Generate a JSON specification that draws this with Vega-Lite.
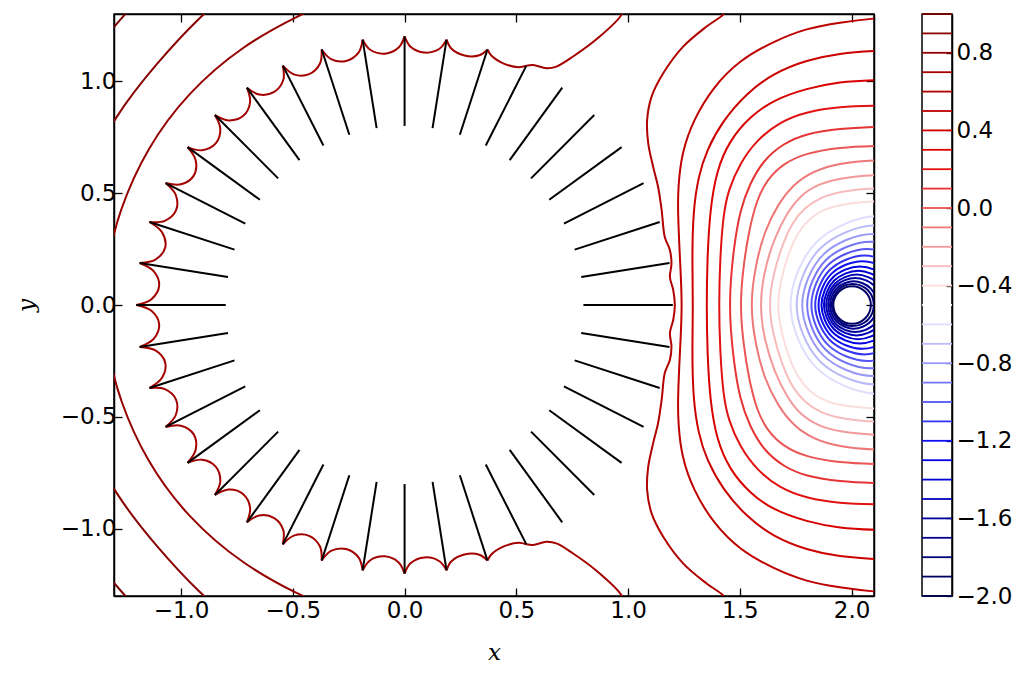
{
"$schema": "https://vega.github.io/schema/vega-lite/v6.json",
"background": "white",
"padding": {"left": 14, "top": 12, "right": 5, "bottom": 5},
"config": {
  "font": "DejaVu Sans",
  "view": {"stroke": "black", "strokeWidth": 1.5},
  "axis": {"labelFont": "DejaVu Sans", "labelFontSize": 23, "labelColor": "black", "tickColor": "black", "domainColor": "black", "domainWidth": 1.5, "grid": false, "tickSize": -8, "tickWidth": 1.3, "titleFont": "DejaVu Serif", "titleFontStyle": "italic", "titleFontWeight": "normal", "titleFontSize": 23, "titleColor": "black"}
},
"datasets": {
"rings": [
{"c":"r19","l":-1.9,"i":0,"x":2.086,"y":0},{"c":"r19","l":-1.9,"i":1,"x":2.061,"y":0.059},{"c":"r19","l":-1.9,"i":2,"x":2.002,"y":0.084},{"c":"r19","l":-1.9,"i":3,"x":1.943,"y":0.059},{"c":"r19","l":-1.9,"i":4,"x":1.918,"y":0},{"c":"r19","l":-1.9,"i":5,"x":1.943,"y":-0.059},{"c":"r19","l":-1.9,"i":6,"x":2.002,"y":-0.084},{"c":"r19","l":-1.9,"i":7,"x":2.061,"y":-0.059},
{"c":"r18","l":-1.8,"i":0,"x":2.099,"y":0},{"c":"r18","l":-1.8,"i":1,"x":2.072,"y":0.067},{"c":"r18","l":-1.8,"i":2,"x":2.005,"y":0.094},{"c":"r18","l":-1.8,"i":3,"x":1.939,"y":0.067},{"c":"r18","l":-1.8,"i":4,"x":1.911,"y":0},{"c":"r18","l":-1.8,"i":5,"x":1.939,"y":-0.067},{"c":"r18","l":-1.8,"i":6,"x":2.005,"y":-0.094},{"c":"r18","l":-1.8,"i":7,"x":2.072,"y":-0.067},
{"c":"r17","l":-1.7,"i":0,"x":2.115,"y":0},{"c":"r17","l":-1.7,"i":1,"x":2.084,"y":0.075},{"c":"r17","l":-1.7,"i":2,"x":2.009,"y":0.106},{"c":"r17","l":-1.7,"i":3,"x":1.934,"y":0.075},{"c":"r17","l":-1.7,"i":4,"x":1.903,"y":0},{"c":"r17","l":-1.7,"i":5,"x":1.934,"y":-0.075},{"c":"r17","l":-1.7,"i":6,"x":2.009,"y":-0.106},{"c":"r17","l":-1.7,"i":7,"x":2.084,"y":-0.075},
{"c":"r16","l":-1.6,"i":0,"x":2.137,"y":0},{"c":"r16","l":-1.6,"i":1,"x":2.102,"y":0.086},{"c":"r16","l":-1.6,"i":2,"x":2.016,"y":0.121},{"c":"r16","l":-1.6,"i":3,"x":1.93,"y":0.086},{"c":"r16","l":-1.6,"i":4,"x":1.895,"y":0},{"c":"r16","l":-1.6,"i":5,"x":1.93,"y":-0.086},{"c":"r16","l":-1.6,"i":6,"x":2.016,"y":-0.121},{"c":"r16","l":-1.6,"i":7,"x":2.102,"y":-0.086},
{"c":"r15","l":-1.5,"i":0,"x":2.158,"y":0},{"c":"r15","l":-1.5,"i":1,"x":2.118,"y":0.096},{"c":"r15","l":-1.5,"i":2,"x":2.022,"y":0.136},{"c":"r15","l":-1.5,"i":3,"x":1.926,"y":0.096},{"c":"r15","l":-1.5,"i":4,"x":1.886,"y":0},{"c":"r15","l":-1.5,"i":5,"x":1.926,"y":-0.096},{"c":"r15","l":-1.5,"i":6,"x":2.022,"y":-0.136},{"c":"r15","l":-1.5,"i":7,"x":2.118,"y":-0.096},
{"c":"r14","l":-1.4,"i":0,"x":2.182,"y":0},{"c":"r14","l":-1.4,"i":1,"x":2.137,"y":0.108},{"c":"r14","l":-1.4,"i":2,"x":2.029,"y":0.153},{"c":"r14","l":-1.4,"i":3,"x":1.921,"y":0.108},{"c":"r14","l":-1.4,"i":4,"x":1.876,"y":0},{"c":"r14","l":-1.4,"i":5,"x":1.921,"y":-0.108},{"c":"r14","l":-1.4,"i":6,"x":2.029,"y":-0.153},{"c":"r14","l":-1.4,"i":7,"x":2.137,"y":-0.108},
{"c":"r13","l":-1.3,"i":0,"x":2.209,"y":0},{"c":"r13","l":-1.3,"i":1,"x":2.159,"y":0.122},{"c":"r13","l":-1.3,"i":2,"x":2.037,"y":0.172},{"c":"r13","l":-1.3,"i":3,"x":1.915,"y":0.122},{"c":"r13","l":-1.3,"i":4,"x":1.865,"y":0},{"c":"r13","l":-1.3,"i":5,"x":1.915,"y":-0.122},{"c":"r13","l":-1.3,"i":6,"x":2.037,"y":-0.172},{"c":"r13","l":-1.3,"i":7,"x":2.159,"y":-0.122},
{"c":"r12","l":-1.2,"i":0,"x":2.244,"y":0},{"c":"r12","l":-1.2,"i":1,"x":2.187,"y":0.139},{"c":"r12","l":-1.2,"i":2,"x":2.048,"y":0.196},{"c":"r12","l":-1.2,"i":3,"x":1.909,"y":0.139},{"c":"r12","l":-1.2,"i":4,"x":1.852,"y":0},{"c":"r12","l":-1.2,"i":5,"x":1.909,"y":-0.139},{"c":"r12","l":-1.2,"i":6,"x":2.048,"y":-0.196},{"c":"r12","l":-1.2,"i":7,"x":2.187,"y":-0.139},
{"c":"r11","l":-1.1,"i":0,"x":2.279,"y":0},{"c":"r11","l":-1.1,"i":1,"x":2.214,"y":0.156},{"c":"r11","l":-1.1,"i":2,"x":2.058,"y":0.221},{"c":"r11","l":-1.1,"i":3,"x":1.902,"y":0.156},{"c":"r11","l":-1.1,"i":4,"x":1.837,"y":0},{"c":"r11","l":-1.1,"i":5,"x":1.902,"y":-0.156},{"c":"r11","l":-1.1,"i":6,"x":2.058,"y":-0.221},{"c":"r11","l":-1.1,"i":7,"x":2.214,"y":-0.156},
{"c":"r10","l":-1.0,"i":0,"x":2.32,"y":0},{"c":"r10","l":-1.0,"i":1,"x":2.247,"y":0.177},{"c":"r10","l":-1.0,"i":2,"x":2.07,"y":0.25},{"c":"r10","l":-1.0,"i":3,"x":1.893,"y":0.177},{"c":"r10","l":-1.0,"i":4,"x":1.82,"y":0},{"c":"r10","l":-1.0,"i":5,"x":1.893,"y":-0.177},{"c":"r10","l":-1.0,"i":6,"x":2.07,"y":-0.25},{"c":"r10","l":-1.0,"i":7,"x":2.247,"y":-0.177},
{"c":"r09","l":-0.9,"i":0,"x":2.367,"y":0},{"c":"r09","l":-0.9,"i":1,"x":2.284,"y":0.2},{"c":"r09","l":-0.9,"i":2,"x":2.084,"y":0.283},{"c":"r09","l":-0.9,"i":3,"x":1.884,"y":0.2},{"c":"r09","l":-0.9,"i":4,"x":1.801,"y":0},{"c":"r09","l":-0.9,"i":5,"x":1.884,"y":-0.2},{"c":"r09","l":-0.9,"i":6,"x":2.084,"y":-0.283},{"c":"r09","l":-0.9,"i":7,"x":2.284,"y":-0.2},
{"c":"r08","l":-0.8,"i":0,"x":2.413,"y":0},{"c":"r08","l":-0.8,"i":1,"x":2.32,"y":0.224},{"c":"r08","l":-0.8,"i":2,"x":2.096,"y":0.317},{"c":"r08","l":-0.8,"i":3,"x":1.872,"y":0.224},{"c":"r08","l":-0.8,"i":4,"x":1.779,"y":0},{"c":"r08","l":-0.8,"i":5,"x":1.872,"y":-0.224},{"c":"r08","l":-0.8,"i":6,"x":2.096,"y":-0.317},{"c":"r08","l":-0.8,"i":7,"x":2.32,"y":-0.224},
{"c":"r07","l":-0.7,"i":0,"x":2.464,"y":0},{"c":"r07","l":-0.7,"i":1,"x":2.36,"y":0.251},{"c":"r07","l":-0.7,"i":2,"x":2.109,"y":0.355},{"c":"r07","l":-0.7,"i":3,"x":1.858,"y":0.251},{"c":"r07","l":-0.7,"i":4,"x":1.754,"y":0},{"c":"r07","l":-0.7,"i":5,"x":1.858,"y":-0.251},{"c":"r07","l":-0.7,"i":6,"x":2.109,"y":-0.355},{"c":"r07","l":-0.7,"i":7,"x":2.36,"y":-0.251},
{"c":"r06","l":-0.6,"i":0,"x":2.521,"y":0},{"c":"r06","l":-0.6,"i":1,"x":2.405,"y":0.281},{"c":"r06","l":-0.6,"i":2,"x":2.124,"y":0.397},{"c":"r06","l":-0.6,"i":3,"x":1.843,"y":0.281},{"c":"r06","l":-0.6,"i":4,"x":1.727,"y":0},{"c":"r06","l":-0.6,"i":5,"x":1.843,"y":-0.281},{"c":"r06","l":-0.6,"i":6,"x":2.124,"y":-0.397},{"c":"r06","l":-0.6,"i":7,"x":2.405,"y":-0.281}
],
"smooth": [
{"c":"c5","l":0.5,"i":0,"x":2.25,"y":1.29},{"c":"c5","l":0.5,"i":1,"x":2.097,"y":1.281},{"c":"c5","l":0.5,"i":2,"x":1.948,"y":1.262},{"c":"c5","l":0.5,"i":3,"x":1.799,"y":1.237},{"c":"c5","l":0.5,"i":4,"x":1.649,"y":1.177},{"c":"c5","l":0.5,"i":5,"x":1.5,"y":1.095},{"c":"c5","l":0.5,"i":6,"x":1.381,"y":0.975},{"c":"c5","l":0.5,"i":7,"x":1.291,"y":0.826},{"c":"c5","l":0.5,"i":8,"x":1.239,"y":0.677},{"c":"c5","l":0.5,"i":9,"x":1.224,"y":0.528},{"c":"c5","l":0.5,"i":10,"x":1.222,"y":0.424},{"c":"c5","l":0.5,"i":11,"x":1.232,"y":0.2},{"c":"c5","l":0.5,"i":12,"x":1.243,"y":0},{"c":"c5","l":0.5,"i":13,"x":1.232,"y":-0.2},{"c":"c5","l":0.5,"i":14,"x":1.222,"y":-0.424},{"c":"c5","l":0.5,"i":15,"x":1.224,"y":-0.528},{"c":"c5","l":0.5,"i":16,"x":1.239,"y":-0.677},{"c":"c5","l":0.5,"i":17,"x":1.291,"y":-0.826},{"c":"c5","l":0.5,"i":18,"x":1.381,"y":-0.975},{"c":"c5","l":0.5,"i":19,"x":1.5,"y":-1.095},{"c":"c5","l":0.5,"i":20,"x":1.649,"y":-1.177},{"c":"c5","l":0.5,"i":21,"x":1.799,"y":-1.237},{"c":"c5","l":0.5,"i":22,"x":1.948,"y":-1.262},{"c":"c5","l":0.5,"i":23,"x":2.097,"y":-1.281},{"c":"c5","l":0.5,"i":24,"x":2.25,"y":-1.29},
{"c":"c4","l":0.4,"i":0,"x":2.25,"y":1.14},{"c":"c4","l":0.4,"i":1,"x":2.097,"y":1.135},{"c":"c4","l":0.4,"i":2,"x":1.948,"y":1.125},{"c":"c4","l":0.4,"i":3,"x":1.799,"y":1.095},{"c":"c4","l":0.4,"i":4,"x":1.649,"y":1.035},{"c":"c4","l":0.4,"i":5,"x":1.53,"y":0.946},{"c":"c4","l":0.4,"i":6,"x":1.425,"y":0.826},{"c":"c4","l":0.4,"i":7,"x":1.351,"y":0.692},{"c":"c4","l":0.4,"i":8,"x":1.314,"y":0.573},{"c":"c4","l":0.4,"i":9,"x":1.291,"y":0.423},{"c":"c4","l":0.4,"i":10,"x":1.286,"y":0.2},{"c":"c4","l":0.4,"i":11,"x":1.291,"y":0},{"c":"c4","l":0.4,"i":12,"x":1.286,"y":-0.2},{"c":"c4","l":0.4,"i":13,"x":1.291,"y":-0.423},{"c":"c4","l":0.4,"i":14,"x":1.314,"y":-0.573},{"c":"c4","l":0.4,"i":15,"x":1.351,"y":-0.692},{"c":"c4","l":0.4,"i":16,"x":1.425,"y":-0.826},{"c":"c4","l":0.4,"i":17,"x":1.53,"y":-0.946},{"c":"c4","l":0.4,"i":18,"x":1.649,"y":-1.035},{"c":"c4","l":0.4,"i":19,"x":1.799,"y":-1.095},{"c":"c4","l":0.4,"i":20,"x":1.948,"y":-1.125},{"c":"c4","l":0.4,"i":21,"x":2.097,"y":-1.135},{"c":"c4","l":0.4,"i":22,"x":2.25,"y":-1.14},
{"c":"c3","l":0.3,"i":0,"x":2.25,"y":1.008},{"c":"c3","l":0.3,"i":1,"x":2.097,"y":1.005},{"c":"c3","l":0.3,"i":2,"x":1.948,"y":0.998},{"c":"c3","l":0.3,"i":3,"x":1.799,"y":0.968},{"c":"c3","l":0.3,"i":4,"x":1.649,"y":0.916},{"c":"c3","l":0.3,"i":5,"x":1.545,"y":0.841},{"c":"c3","l":0.3,"i":6,"x":1.455,"y":0.737},{"c":"c3","l":0.3,"i":7,"x":1.396,"y":0.603},{"c":"c3","l":0.3,"i":8,"x":1.366,"y":0.424},{"c":"c3","l":0.3,"i":9,"x":1.354,"y":0.2},{"c":"c3","l":0.3,"i":10,"x":1.351,"y":0},{"c":"c3","l":0.3,"i":11,"x":1.354,"y":-0.2},{"c":"c3","l":0.3,"i":12,"x":1.366,"y":-0.424},{"c":"c3","l":0.3,"i":13,"x":1.396,"y":-0.603},{"c":"c3","l":0.3,"i":14,"x":1.455,"y":-0.737},{"c":"c3","l":0.3,"i":15,"x":1.545,"y":-0.841},{"c":"c3","l":0.3,"i":16,"x":1.649,"y":-0.916},{"c":"c3","l":0.3,"i":17,"x":1.799,"y":-0.968},{"c":"c3","l":0.3,"i":18,"x":1.948,"y":-0.998},{"c":"c3","l":0.3,"i":19,"x":2.097,"y":-1.005},{"c":"c3","l":0.3,"i":20,"x":2.25,"y":-1.008},
{"c":"c2","l":0.2,"i":0,"x":2.25,"y":0.892},{"c":"c2","l":0.2,"i":1,"x":2.097,"y":0.89},{"c":"c2","l":0.2,"i":2,"x":1.948,"y":0.886},{"c":"c2","l":0.2,"i":3,"x":1.799,"y":0.864},{"c":"c2","l":0.2,"i":4,"x":1.679,"y":0.819},{"c":"c2","l":0.2,"i":5,"x":1.575,"y":0.737},{"c":"c2","l":0.2,"i":6,"x":1.5,"y":0.633},{"c":"c2","l":0.2,"i":7,"x":1.448,"y":0.513},{"c":"c2","l":0.2,"i":8,"x":1.425,"y":0.4},{"c":"c2","l":0.2,"i":9,"x":1.411,"y":0.2},{"c":"c2","l":0.2,"i":10,"x":1.406,"y":0},{"c":"c2","l":0.2,"i":11,"x":1.411,"y":-0.2},{"c":"c2","l":0.2,"i":12,"x":1.425,"y":-0.4},{"c":"c2","l":0.2,"i":13,"x":1.448,"y":-0.513},{"c":"c2","l":0.2,"i":14,"x":1.5,"y":-0.633},{"c":"c2","l":0.2,"i":15,"x":1.575,"y":-0.737},{"c":"c2","l":0.2,"i":16,"x":1.679,"y":-0.819},{"c":"c2","l":0.2,"i":17,"x":1.799,"y":-0.864},{"c":"c2","l":0.2,"i":18,"x":1.948,"y":-0.886},{"c":"c2","l":0.2,"i":19,"x":2.097,"y":-0.89},{"c":"c2","l":0.2,"i":20,"x":2.25,"y":-0.892},
{"c":"c1","l":0.1,"i":0,"x":2.25,"y":0.8},{"c":"c1","l":0.1,"i":1,"x":2.097,"y":0.796},{"c":"c1","l":0.1,"i":2,"x":1.948,"y":0.789},{"c":"c1","l":0.1,"i":3,"x":1.799,"y":0.767},{"c":"c1","l":0.1,"i":4,"x":1.694,"y":0.722},{"c":"c1","l":0.1,"i":5,"x":1.605,"y":0.647},{"c":"c1","l":0.1,"i":6,"x":1.545,"y":0.543},{"c":"c1","l":0.1,"i":7,"x":1.5,"y":0.424},{"c":"c1","l":0.1,"i":8,"x":1.472,"y":0.25},{"c":"c1","l":0.1,"i":9,"x":1.458,"y":0.1},{"c":"c1","l":0.1,"i":10,"x":1.455,"y":0},{"c":"c1","l":0.1,"i":11,"x":1.458,"y":-0.1},{"c":"c1","l":0.1,"i":12,"x":1.472,"y":-0.25},{"c":"c1","l":0.1,"i":13,"x":1.5,"y":-0.424},{"c":"c1","l":0.1,"i":14,"x":1.545,"y":-0.543},{"c":"c1","l":0.1,"i":15,"x":1.605,"y":-0.647},{"c":"c1","l":0.1,"i":16,"x":1.694,"y":-0.722},{"c":"c1","l":0.1,"i":17,"x":1.799,"y":-0.767},{"c":"c1","l":0.1,"i":18,"x":1.948,"y":-0.789},{"c":"c1","l":0.1,"i":19,"x":2.097,"y":-0.796},{"c":"c1","l":0.1,"i":20,"x":2.25,"y":-0.8},
{"c":"c0","l":0.0,"i":0,"x":2.25,"y":0.715},{"c":"c0","l":0.0,"i":1,"x":2.1,"y":0.711},{"c":"c0","l":0.0,"i":2,"x":1.948,"y":0.705},{"c":"c0","l":0.0,"i":3,"x":1.799,"y":0.68},{"c":"c0","l":0.0,"i":4,"x":1.694,"y":0.633},{"c":"c0","l":0.0,"i":5,"x":1.62,"y":0.558},{"c":"c0","l":0.0,"i":6,"x":1.575,"y":0.468},{"c":"c0","l":0.0,"i":7,"x":1.54,"y":0.33},{"c":"c0","l":0.0,"i":8,"x":1.515,"y":0.17},{"c":"c0","l":0.0,"i":9,"x":1.5,"y":0},{"c":"c0","l":0.0,"i":10,"x":1.515,"y":-0.17},{"c":"c0","l":0.0,"i":11,"x":1.54,"y":-0.33},{"c":"c0","l":0.0,"i":12,"x":1.575,"y":-0.468},{"c":"c0","l":0.0,"i":13,"x":1.62,"y":-0.558},{"c":"c0","l":0.0,"i":14,"x":1.694,"y":-0.633},{"c":"c0","l":0.0,"i":15,"x":1.799,"y":-0.68},{"c":"c0","l":0.0,"i":16,"x":1.948,"y":-0.705},{"c":"c0","l":0.0,"i":17,"x":2.1,"y":-0.711},{"c":"c0","l":0.0,"i":18,"x":2.25,"y":-0.715},
{"c":"m1","l":-0.1,"i":0,"x":2.25,"y":0.65},{"c":"m1","l":-0.1,"i":1,"x":2.1,"y":0.647},{"c":"m1","l":-0.1,"i":2,"x":1.95,"y":0.635},{"c":"m1","l":-0.1,"i":3,"x":1.83,"y":0.6},{"c":"m1","l":-0.1,"i":4,"x":1.74,"y":0.54},{"c":"m1","l":-0.1,"i":5,"x":1.67,"y":0.45},{"c":"m1","l":-0.1,"i":6,"x":1.61,"y":0.33},{"c":"m1","l":-0.1,"i":7,"x":1.57,"y":0.18},{"c":"m1","l":-0.1,"i":8,"x":1.545,"y":0},{"c":"m1","l":-0.1,"i":9,"x":1.57,"y":-0.18},{"c":"m1","l":-0.1,"i":10,"x":1.61,"y":-0.33},{"c":"m1","l":-0.1,"i":11,"x":1.67,"y":-0.45},{"c":"m1","l":-0.1,"i":12,"x":1.74,"y":-0.54},{"c":"m1","l":-0.1,"i":13,"x":1.83,"y":-0.6},{"c":"m1","l":-0.1,"i":14,"x":1.95,"y":-0.635},{"c":"m1","l":-0.1,"i":15,"x":2.1,"y":-0.647},{"c":"m1","l":-0.1,"i":16,"x":2.25,"y":-0.65},
{"c":"m2","l":-0.2,"i":0,"x":2.25,"y":0.585},{"c":"m2","l":-0.2,"i":1,"x":2.1,"y":0.581},{"c":"m2","l":-0.2,"i":2,"x":1.95,"y":0.568},{"c":"m2","l":-0.2,"i":3,"x":1.85,"y":0.54},{"c":"m2","l":-0.2,"i":4,"x":1.77,"y":0.49},{"c":"m2","l":-0.2,"i":5,"x":1.71,"y":0.41},{"c":"m2","l":-0.2,"i":6,"x":1.655,"y":0.3},{"c":"m2","l":-0.2,"i":7,"x":1.61,"y":0.16},{"c":"m2","l":-0.2,"i":8,"x":1.587,"y":0},{"c":"m2","l":-0.2,"i":9,"x":1.61,"y":-0.16},{"c":"m2","l":-0.2,"i":10,"x":1.655,"y":-0.3},{"c":"m2","l":-0.2,"i":11,"x":1.71,"y":-0.41},{"c":"m2","l":-0.2,"i":12,"x":1.77,"y":-0.49},{"c":"m2","l":-0.2,"i":13,"x":1.85,"y":-0.54},{"c":"m2","l":-0.2,"i":14,"x":1.95,"y":-0.568},{"c":"m2","l":-0.2,"i":15,"x":2.1,"y":-0.581},{"c":"m2","l":-0.2,"i":16,"x":2.25,"y":-0.585},
{"c":"m3","l":-0.3,"i":0,"x":2.25,"y":0.525},{"c":"m3","l":-0.3,"i":1,"x":2.1,"y":0.522},{"c":"m3","l":-0.3,"i":2,"x":1.95,"y":0.508},{"c":"m3","l":-0.3,"i":3,"x":1.86,"y":0.48},{"c":"m3","l":-0.3,"i":4,"x":1.79,"y":0.435},{"c":"m3","l":-0.3,"i":5,"x":1.735,"y":0.37},{"c":"m3","l":-0.3,"i":6,"x":1.69,"y":0.27},{"c":"m3","l":-0.3,"i":7,"x":1.65,"y":0.14},{"c":"m3","l":-0.3,"i":8,"x":1.627,"y":0},{"c":"m3","l":-0.3,"i":9,"x":1.65,"y":-0.14},{"c":"m3","l":-0.3,"i":10,"x":1.69,"y":-0.27},{"c":"m3","l":-0.3,"i":11,"x":1.735,"y":-0.37},{"c":"m3","l":-0.3,"i":12,"x":1.79,"y":-0.435},{"c":"m3","l":-0.3,"i":13,"x":1.86,"y":-0.48},{"c":"m3","l":-0.3,"i":14,"x":1.95,"y":-0.508},{"c":"m3","l":-0.3,"i":15,"x":2.1,"y":-0.522},{"c":"m3","l":-0.3,"i":16,"x":2.25,"y":-0.525},
{"c":"m4","l":-0.4,"i":0,"x":2.25,"y":0.466},{"c":"m4","l":-0.4,"i":1,"x":2.1,"y":0.464},{"c":"m4","l":-0.4,"i":2,"x":1.95,"y":0.45},{"c":"m4","l":-0.4,"i":3,"x":1.87,"y":0.425},{"c":"m4","l":-0.4,"i":4,"x":1.81,"y":0.385},{"c":"m4","l":-0.4,"i":5,"x":1.76,"y":0.325},{"c":"m4","l":-0.4,"i":6,"x":1.72,"y":0.24},{"c":"m4","l":-0.4,"i":7,"x":1.685,"y":0.12},{"c":"m4","l":-0.4,"i":8,"x":1.665,"y":0},{"c":"m4","l":-0.4,"i":9,"x":1.685,"y":-0.12},{"c":"m4","l":-0.4,"i":10,"x":1.72,"y":-0.24},{"c":"m4","l":-0.4,"i":11,"x":1.76,"y":-0.325},{"c":"m4","l":-0.4,"i":12,"x":1.81,"y":-0.385},{"c":"m4","l":-0.4,"i":13,"x":1.87,"y":-0.425},{"c":"m4","l":-0.4,"i":14,"x":1.95,"y":-0.45},{"c":"m4","l":-0.4,"i":15,"x":2.1,"y":-0.464},{"c":"m4","l":-0.4,"i":16,"x":2.25,"y":-0.466},
{"c":"a1","l":0.8,"i":0,"x":-0.35,"y":1.345},{"c":"a1","l":0.8,"i":1,"x":-0.463,"y":1.3},{"c":"a1","l":0.8,"i":2,"x":-0.725,"y":1.16},{"c":"a1","l":0.8,"i":3,"x":-0.97,"y":0.95},{"c":"a1","l":0.8,"i":4,"x":-1.155,"y":0.7},{"c":"a1","l":0.8,"i":5,"x":-1.278,"y":0.42},{"c":"a1","l":0.8,"i":6,"x":-1.33,"y":0.2},{"c":"a1","l":0.8,"i":7,"x":-1.345,"y":0},{"c":"a1","l":0.8,"i":8,"x":-1.33,"y":-0.2},{"c":"a1","l":0.8,"i":9,"x":-1.278,"y":-0.42},{"c":"a1","l":0.8,"i":10,"x":-1.155,"y":-0.7},{"c":"a1","l":0.8,"i":11,"x":-0.97,"y":-0.95},{"c":"a1","l":0.8,"i":12,"x":-0.725,"y":-1.16},{"c":"a1","l":0.8,"i":13,"x":-0.463,"y":-1.3},{"c":"a1","l":0.8,"i":14,"x":-0.35,"y":-1.345},
{"c":"a2u","l":0.9,"i":0,"x":-0.8,"y":1.38},{"c":"a2u","l":0.9,"i":1,"x":-0.905,"y":1.3},{"c":"a2u","l":0.9,"i":2,"x":-1.11,"y":1.081},{"c":"a2u","l":0.9,"i":3,"x":-1.3,"y":0.839},{"c":"a2u","l":0.9,"i":4,"x":-1.407,"y":0.62},
{"c":"a2d","l":0.9,"i":0,"x":-0.8,"y":-1.38},{"c":"a2d","l":0.9,"i":1,"x":-0.905,"y":-1.3},{"c":"a2d","l":0.9,"i":2,"x":-1.11,"y":-1.081},{"c":"a2d","l":0.9,"i":3,"x":-1.3,"y":-0.839},{"c":"a2d","l":0.9,"i":4,"x":-1.407,"y":-0.62},
{"c":"a3u","l":1.0,"i":0,"x":-1.19,"y":1.36},{"c":"a3u","l":1.0,"i":1,"x":-1.25,"y":1.3},{"c":"a3u","l":1.0,"i":2,"x":-1.3,"y":1.242},{"c":"a3u","l":1.0,"i":3,"x":-1.36,"y":1.17},
{"c":"a3d","l":1.0,"i":0,"x":-1.19,"y":-1.36},{"c":"a3d","l":1.0,"i":1,"x":-1.25,"y":-1.3},{"c":"a3d","l":1.0,"i":2,"x":-1.3,"y":-1.242},{"c":"a3d","l":1.0,"i":3,"x":-1.36,"y":-1.17}
],
"sharp": [
{"c":"w","l":0.6,"i":0,"x":1.44,"y":1.32},{"c":"w","l":0.6,"i":1,"x":1.424,"y":1.296},{"c":"w","l":0.6,"i":2,"x":1.351,"y":1.244},{"c":"w","l":0.6,"i":3,"x":1.246,"y":1.154},{"c":"w","l":0.6,"i":4,"x":1.157,"y":1.035},{"c":"w","l":0.6,"i":5,"x":1.105,"y":0.931},{"c":"w","l":0.6,"i":6,"x":1.085,"y":0.826},{"c":"w","l":0.6,"i":7,"x":1.09,"y":0.722},{"c":"w","l":0.6,"i":8,"x":1.112,"y":0.617},{"c":"w","l":0.6,"i":9,"x":1.134,"y":0.528},{"c":"w","l":0.6,"i":10,"x":1.15,"y":0.424},{"c":"w","l":0.6,"i":11,"x":1.164,"y":0.304},{"c":"w","l":0.6,"i":12,"x":1.187,"y":0.245},{"c":"w","l":0.6,"i":13,"x":1.194,"y":0.185},{"c":"w","l":0.6,"i":14,"x":1.187,"y":0.125},{"c":"w","l":0.6,"i":15,"x":1.202,"y":0.066},{"c":"w","l":0.6,"i":16,"x":1.209,"y":0},{"c":"w","l":0.6,"i":17,"x":1.202,"y":-0.066},{"c":"w","l":0.6,"i":18,"x":1.187,"y":-0.125},{"c":"w","l":0.6,"i":19,"x":1.194,"y":-0.185},{"c":"w","l":0.6,"i":20,"x":1.187,"y":-0.245},{"c":"w","l":0.6,"i":21,"x":1.164,"y":-0.304},{"c":"w","l":0.6,"i":22,"x":1.15,"y":-0.424},{"c":"w","l":0.6,"i":23,"x":1.134,"y":-0.528},{"c":"w","l":0.6,"i":24,"x":1.112,"y":-0.617},{"c":"w","l":0.6,"i":25,"x":1.09,"y":-0.722},{"c":"w","l":0.6,"i":26,"x":1.085,"y":-0.826},{"c":"w","l":0.6,"i":27,"x":1.105,"y":-0.931},{"c":"w","l":0.6,"i":28,"x":1.157,"y":-1.035},{"c":"w","l":0.6,"i":29,"x":1.246,"y":-1.154},{"c":"w","l":0.6,"i":30,"x":1.351,"y":-1.244},{"c":"w","l":0.6,"i":31,"x":1.424,"y":-1.296},{"c":"w","l":0.6,"i":32,"x":1.44,"y":-1.32},
{"c":"st","l":0.7,"i":0,"x":0.975,"y":1.32},{"c":"st","l":0.7,"i":1,"x":0.97,"y":1.296},{"c":"st","l":0.7,"i":2,"x":0.873,"y":1.199},{"c":"st","l":0.7,"i":3,"x":0.754,"y":1.11},{"c":"st","l":0.7,"i":4,"x":0.679,"y":1.065},{"c":"st","l":0.7,"i":5,"x":0.635,"y":1.058},{"c":"st","l":0.7,"i":6,"x":0.575,"y":1.072},{"c":"st","l":0.7,"i":7,"x":0.5448,"y":1.0692},
{"c":"sb","l":0.7,"i":0,"x":0.975,"y":-1.32},{"c":"sb","l":0.7,"i":1,"x":0.97,"y":-1.296},{"c":"sb","l":0.7,"i":2,"x":0.873,"y":-1.199},{"c":"sb","l":0.7,"i":3,"x":0.754,"y":-1.11},{"c":"sb","l":0.7,"i":4,"x":0.679,"y":-1.065},{"c":"sb","l":0.7,"i":5,"x":0.635,"y":-1.058},{"c":"sb","l":0.7,"i":6,"x":0.575,"y":-1.072},{"c":"sb","l":0.7,"i":7,"x":0.5448,"y":-1.0692},
{"c":"s63","l":0.7,"i":0,"x":0.5448,"y":1.0692},{"c":"s63","l":0.7,"i":1,"x":0.5109,"y":1.0623},{"c":"s63","l":0.7,"i":2,"x":0.4463,"y":1.0775},{"c":"s63","l":0.7,"i":3,"x":0.3901,"y":1.1124},{"c":"s63","l":0.7,"i":4,"x":0.3708,"y":1.1413},
{"c":"s72","l":0.7,"i":0,"x":0.3708,"y":1.1413},{"c":"s72","l":0.7,"i":1,"x":0.3343,"y":1.1156},{"c":"s72","l":0.7,"i":2,"x":0.2676,"y":1.1147},{"c":"s72","l":0.7,"i":3,"x":0.2087,"y":1.1458},{"c":"s72","l":0.7,"i":4,"x":0.1877,"y":1.1852},
{"c":"s81","l":0.7,"i":0,"x":0.1877,"y":1.1852},{"c":"s81","l":0.7,"i":1,"x":0.1543,"y":1.1437},{"c":"s81","l":0.7,"i":2,"x":0.0888,"y":1.1278},{"c":"s81","l":0.7,"i":3,"x":0.0266,"y":1.1537},{"c":"s81","l":0.7,"i":4,"x":0,"y":1.2},
{"c":"s90","l":0.7,"i":0,"x":0,"y":1.2},{"c":"s90","l":0.7,"i":1,"x":-0.0265,"y":1.1502},{"c":"s90","l":0.7,"i":2,"x":-0.0884,"y":1.1228},{"c":"s90","l":0.7,"i":3,"x":-0.1537,"y":1.1401},{"c":"s90","l":0.7,"i":4,"x":-0.1877,"y":1.1852},
{"c":"s99","l":0.7,"i":0,"x":-0.1877,"y":1.1852},{"c":"s99","l":0.7,"i":1,"x":-0.2054,"y":1.1284},{"c":"s99","l":0.7,"i":2,"x":-0.2617,"y":1.0903},{"c":"s99","l":0.7,"i":3,"x":-0.3292,"y":1.0987},{"c":"s99","l":0.7,"i":4,"x":-0.3708,"y":1.1413},
{"c":"s108","l":0.7,"i":0,"x":-0.3708,"y":1.1413},{"c":"s108","l":0.7,"i":1,"x":-0.3784,"y":1.079},{"c":"s108","l":0.7,"i":2,"x":-0.4272,"y":1.0313},{"c":"s108","l":0.7,"i":3,"x":-0.4956,"y":1.0305},{"c":"s108","l":0.7,"i":4,"x":-0.5448,"y":1.0692},
{"c":"s117","l":0.7,"i":0,"x":-0.5448,"y":1.0692},{"c":"s117","l":0.7,"i":1,"x":-0.5424,"y":1.0065},{"c":"s117","l":0.7,"i":2,"x":-0.5833,"y":0.9518},{"c":"s117","l":0.7,"i":3,"x":-0.6506,"y":0.9403},{"c":"s117","l":0.7,"i":4,"x":-0.7053,"y":0.9708},
{"c":"s126","l":0.7,"i":0,"x":-0.7053,"y":0.9708},{"c":"s126","l":0.7,"i":1,"x":-0.6911,"y":0.9065},{"c":"s126","l":0.7,"i":2,"x":-0.7217,"y":0.845},{"c":"s126","l":0.7,"i":3,"x":-0.7873,"y":0.8245},{"c":"s126","l":0.7,"i":4,"x":-0.8485,"y":0.8485},
{"c":"s135","l":0.7,"i":0,"x":-0.8485,"y":0.8485},{"c":"s135","l":0.7,"i":1,"x":-0.8244,"y":0.7873},{"c":"s135","l":0.7,"i":2,"x":-0.845,"y":0.7217},{"c":"s135","l":0.7,"i":3,"x":-0.9066,"y":0.6911},{"c":"s135","l":0.7,"i":4,"x":-0.9708,"y":0.7053},
{"c":"s144","l":0.7,"i":0,"x":-0.9708,"y":0.7053},{"c":"s144","l":0.7,"i":1,"x":-0.9346,"y":0.6466},{"c":"s144","l":0.7,"i":2,"x":-0.9432,"y":0.578},{"c":"s144","l":0.7,"i":3,"x":-1.0005,"y":0.5391},{"c":"s144","l":0.7,"i":4,"x":-1.0692,"y":0.5448},
{"c":"s153","l":0.7,"i":0,"x":-1.0692,"y":0.5448},{"c":"s153","l":0.7,"i":1,"x":-1.0241,"y":0.4925},{"c":"s153","l":0.7,"i":2,"x":-1.0221,"y":0.4234},{"c":"s153","l":0.7,"i":3,"x":-1.0725,"y":0.376},{"c":"s153","l":0.7,"i":4,"x":-1.1413,"y":0.3708},
{"c":"s162","l":0.7,"i":0,"x":-1.1413,"y":0.3708},{"c":"s162","l":0.7,"i":1,"x":-1.0851,"y":0.3252},{"c":"s162","l":0.7,"i":2,"x":-1.0709,"y":0.257},{"c":"s162","l":0.7,"i":3,"x":-1.1146,"y":0.203},{"c":"s162","l":0.7,"i":4,"x":-1.1852,"y":0.1877},
{"c":"s171","l":0.7,"i":0,"x":-1.1852,"y":0.1877},{"c":"s171","l":0.7,"i":1,"x":-1.1227,"y":0.1515},{"c":"s171","l":0.7,"i":2,"x":-1.0979,"y":0.0865},{"c":"s171","l":0.7,"i":3,"x":-1.1325,"y":0.0261},{"c":"s171","l":0.7,"i":4,"x":-1.2,"y":0},
{"c":"t63","l":0.7,"i":0,"x":0.5448,"y":-1.0692},{"c":"t63","l":0.7,"i":1,"x":0.5109,"y":-1.0623},{"c":"t63","l":0.7,"i":2,"x":0.4463,"y":-1.0775},{"c":"t63","l":0.7,"i":3,"x":0.3901,"y":-1.1124},{"c":"t63","l":0.7,"i":4,"x":0.3708,"y":-1.1413},
{"c":"t72","l":0.7,"i":0,"x":0.3708,"y":-1.1413},{"c":"t72","l":0.7,"i":1,"x":0.3343,"y":-1.1156},{"c":"t72","l":0.7,"i":2,"x":0.2676,"y":-1.1147},{"c":"t72","l":0.7,"i":3,"x":0.2087,"y":-1.1458},{"c":"t72","l":0.7,"i":4,"x":0.1877,"y":-1.1852},
{"c":"t81","l":0.7,"i":0,"x":0.1877,"y":-1.1852},{"c":"t81","l":0.7,"i":1,"x":0.1543,"y":-1.1437},{"c":"t81","l":0.7,"i":2,"x":0.0888,"y":-1.1278},{"c":"t81","l":0.7,"i":3,"x":0.0266,"y":-1.1537},{"c":"t81","l":0.7,"i":4,"x":0,"y":-1.2},
{"c":"t90","l":0.7,"i":0,"x":0,"y":-1.2},{"c":"t90","l":0.7,"i":1,"x":-0.0265,"y":-1.1502},{"c":"t90","l":0.7,"i":2,"x":-0.0884,"y":-1.1228},{"c":"t90","l":0.7,"i":3,"x":-0.1537,"y":-1.1401},{"c":"t90","l":0.7,"i":4,"x":-0.1877,"y":-1.1852},
{"c":"t99","l":0.7,"i":0,"x":-0.1877,"y":-1.1852},{"c":"t99","l":0.7,"i":1,"x":-0.2054,"y":-1.1284},{"c":"t99","l":0.7,"i":2,"x":-0.2617,"y":-1.0903},{"c":"t99","l":0.7,"i":3,"x":-0.3292,"y":-1.0987},{"c":"t99","l":0.7,"i":4,"x":-0.3708,"y":-1.1413},
{"c":"t108","l":0.7,"i":0,"x":-0.3708,"y":-1.1413},{"c":"t108","l":0.7,"i":1,"x":-0.3784,"y":-1.079},{"c":"t108","l":0.7,"i":2,"x":-0.4272,"y":-1.0313},{"c":"t108","l":0.7,"i":3,"x":-0.4956,"y":-1.0305},{"c":"t108","l":0.7,"i":4,"x":-0.5448,"y":-1.0692},
{"c":"t117","l":0.7,"i":0,"x":-0.5448,"y":-1.0692},{"c":"t117","l":0.7,"i":1,"x":-0.5424,"y":-1.0065},{"c":"t117","l":0.7,"i":2,"x":-0.5833,"y":-0.9518},{"c":"t117","l":0.7,"i":3,"x":-0.6506,"y":-0.9403},{"c":"t117","l":0.7,"i":4,"x":-0.7053,"y":-0.9708},
{"c":"t126","l":0.7,"i":0,"x":-0.7053,"y":-0.9708},{"c":"t126","l":0.7,"i":1,"x":-0.6911,"y":-0.9065},{"c":"t126","l":0.7,"i":2,"x":-0.7217,"y":-0.845},{"c":"t126","l":0.7,"i":3,"x":-0.7873,"y":-0.8245},{"c":"t126","l":0.7,"i":4,"x":-0.8485,"y":-0.8485},
{"c":"t135","l":0.7,"i":0,"x":-0.8485,"y":-0.8485},{"c":"t135","l":0.7,"i":1,"x":-0.8244,"y":-0.7873},{"c":"t135","l":0.7,"i":2,"x":-0.845,"y":-0.7217},{"c":"t135","l":0.7,"i":3,"x":-0.9066,"y":-0.6911},{"c":"t135","l":0.7,"i":4,"x":-0.9708,"y":-0.7053},
{"c":"t144","l":0.7,"i":0,"x":-0.9708,"y":-0.7053},{"c":"t144","l":0.7,"i":1,"x":-0.9346,"y":-0.6466},{"c":"t144","l":0.7,"i":2,"x":-0.9432,"y":-0.578},{"c":"t144","l":0.7,"i":3,"x":-1.0005,"y":-0.5391},{"c":"t144","l":0.7,"i":4,"x":-1.0692,"y":-0.5448},
{"c":"t153","l":0.7,"i":0,"x":-1.0692,"y":-0.5448},{"c":"t153","l":0.7,"i":1,"x":-1.0241,"y":-0.4925},{"c":"t153","l":0.7,"i":2,"x":-1.0221,"y":-0.4234},{"c":"t153","l":0.7,"i":3,"x":-1.0725,"y":-0.376},{"c":"t153","l":0.7,"i":4,"x":-1.1413,"y":-0.3708},
{"c":"t162","l":0.7,"i":0,"x":-1.1413,"y":-0.3708},{"c":"t162","l":0.7,"i":1,"x":-1.0851,"y":-0.3252},{"c":"t162","l":0.7,"i":2,"x":-1.0709,"y":-0.257},{"c":"t162","l":0.7,"i":3,"x":-1.1146,"y":-0.203},{"c":"t162","l":0.7,"i":4,"x":-1.1852,"y":-0.1877},
{"c":"t171","l":0.7,"i":0,"x":-1.1852,"y":-0.1877},{"c":"t171","l":0.7,"i":1,"x":-1.1227,"y":-0.1515},{"c":"t171","l":0.7,"i":2,"x":-1.0979,"y":-0.0865},{"c":"t171","l":0.7,"i":3,"x":-1.1325,"y":-0.0261},{"c":"t171","l":0.7,"i":4,"x":-1.2,"y":0}
],
"spokes": [
{"x":0.8,"y":0,"x2":1.2,"y2":0},
{"x":0.7902,"y":0.1251,"x2":1.1852,"y2":0.1877},
{"x":0.7608,"y":0.2472,"x2":1.1413,"y2":0.3708},
{"x":0.7128,"y":0.3632,"x2":1.0692,"y2":0.5448},
{"x":0.6472,"y":0.4702,"x2":0.9708,"y2":0.7053},
{"x":0.5657,"y":0.5657,"x2":0.8485,"y2":0.8485},
{"x":0.4702,"y":0.6472,"x2":0.7053,"y2":0.9708},
{"x":0.3632,"y":0.7128,"x2":0.5448,"y2":1.0692},
{"x":0.2472,"y":0.7608,"x2":0.3708,"y2":1.1413},
{"x":0.1251,"y":0.7902,"x2":0.1877,"y2":1.1852},
{"x":0,"y":0.8,"x2":0,"y2":1.2},
{"x":-0.1251,"y":0.7902,"x2":-0.1877,"y2":1.1852},
{"x":-0.2472,"y":0.7608,"x2":-0.3708,"y2":1.1413},
{"x":-0.3632,"y":0.7128,"x2":-0.5448,"y2":1.0692},
{"x":-0.4702,"y":0.6472,"x2":-0.7053,"y2":0.9708},
{"x":-0.5657,"y":0.5657,"x2":-0.8485,"y2":0.8485},
{"x":-0.6472,"y":0.4702,"x2":-0.9708,"y2":0.7053},
{"x":-0.7128,"y":0.3632,"x2":-1.0692,"y2":0.5448},
{"x":-0.7608,"y":0.2472,"x2":-1.1413,"y2":0.3708},
{"x":-0.7902,"y":0.1251,"x2":-1.1852,"y2":0.1877},
{"x":-0.8,"y":0,"x2":-1.2,"y2":0},
{"x":-0.7902,"y":-0.1251,"x2":-1.1852,"y2":-0.1877},
{"x":-0.7608,"y":-0.2472,"x2":-1.1413,"y2":-0.3708},
{"x":-0.7128,"y":-0.3632,"x2":-1.0692,"y2":-0.5448},
{"x":-0.6472,"y":-0.4702,"x2":-0.9708,"y2":-0.7053},
{"x":-0.5657,"y":-0.5657,"x2":-0.8485,"y2":-0.8485},
{"x":-0.4702,"y":-0.6472,"x2":-0.7053,"y2":-0.9708},
{"x":-0.3632,"y":-0.7128,"x2":-0.5448,"y2":-1.0692},
{"x":-0.2472,"y":-0.7608,"x2":-0.3708,"y2":-1.1413},
{"x":-0.1251,"y":-0.7902,"x2":-0.1877,"y2":-1.1852},
{"x":0,"y":-0.8,"x2":0,"y2":-1.2},
{"x":0.1251,"y":-0.7902,"x2":0.1877,"y2":-1.1852},
{"x":0.2472,"y":-0.7608,"x2":0.3708,"y2":-1.1413},
{"x":0.3632,"y":-0.7128,"x2":0.5448,"y2":-1.0692},
{"x":0.4702,"y":-0.6472,"x2":0.7053,"y2":-0.9708},
{"x":0.5657,"y":-0.5657,"x2":0.8485,"y2":-0.8485},
{"x":0.6472,"y":-0.4702,"x2":0.9708,"y2":-0.7053},
{"x":0.7128,"y":-0.3632,"x2":1.0692,"y2":-0.5448},
{"x":0.7608,"y":-0.2472,"x2":1.1413,"y2":-0.3708},
{"x":0.7902,"y":-0.1251,"x2":1.1852,"y2":-0.1877}
],
"levels": [
{"l":-2.0},{"l":-1.9},{"l":-1.8},{"l":-1.7},{"l":-1.6},{"l":-1.5},{"l":-1.4},{"l":-1.3},{"l":-1.2},{"l":-1.1},{"l":-1.0},{"l":-0.9},{"l":-0.8},{"l":-0.7},{"l":-0.6},{"l":-0.5},{"l":-0.4},{"l":-0.3},{"l":-0.2},{"l":-0.1},{"l":0.0},{"l":0.1},{"l":0.2},{"l":0.3},{"l":0.4},{"l":0.5},{"l":0.6},{"l":0.7},{"l":0.8},{"l":0.9},{"l":1.0}
]
},
"hconcat": [
{
  "width": 760,
  "height": 582,
  "resolve": {"axis": {"x": "independent", "y": "independent"}},
  "layer": [
    {
      "data": {"name": "rings"},
      "mark": {"type": "line", "interpolate": "cardinal-closed", "clip": true, "strokeWidth": 2},
      "encoding": {
        "x": {"field": "x", "type": "quantitative", "scale": {"domain": [-1.3, 2.1], "nice": false, "zero": false}, "axis": {"orient": "bottom", "values": [-1, -0.5, 0, 0.5, 1, 1.5, 2], "format": ".1f", "title": "x", "labelPadding": 11, "titlePadding": 19}},
        "y": {"field": "y", "type": "quantitative", "scale": {"domain": [-1.3, 1.3], "nice": false, "zero": false}, "axis": {"orient": "left", "values": [-1, -0.5, 0, 0.5, 1], "format": ".1f", "title": "y", "labelPadding": 6, "titlePadding": 22}},
        "detail": {"field": "c"},
        "order": {"field": "i"},
        "color": {"field": "l", "type": "quantitative", "scale": {"domain": [-2, -1.25, -0.5, 0.25, 1], "range": ["#00004c", "#0000ee", "#ffffff", "#e00000", "#7a0000"], "interpolate": "rgb"}, "legend": null}
      }
    },
    {
      "data": {"name": "smooth"},
      "mark": {"type": "line", "interpolate": "basis", "clip": true, "strokeWidth": 2},
      "encoding": {
        "x": {"field": "x", "type": "quantitative", "axis": null},
        "y": {"field": "y", "type": "quantitative", "axis": null},
        "detail": {"field": "c"},
        "order": {"field": "i"},
        "color": {"field": "l", "type": "quantitative", "legend": null}
      }
    },
    {
      "data": {"name": "sharp"},
      "mark": {"type": "line", "interpolate": "catmull-rom", "clip": true, "strokeWidth": 2},
      "encoding": {
        "x": {"field": "x", "type": "quantitative", "axis": null},
        "y": {"field": "y", "type": "quantitative", "axis": null},
        "detail": {"field": "c"},
        "order": {"field": "i"},
        "color": {"field": "l", "type": "quantitative", "legend": null}
      }
    },
    {
      "data": {"name": "spokes"},
      "mark": {"type": "rule", "color": "black", "strokeWidth": 2, "clip": true},
      "encoding": {
        "x": {"field": "x", "type": "quantitative", "axis": {"orient": "top", "values": [-1, -0.5, 0, 0.5, 1, 1.5, 2], "labels": false, "title": null}},
        "y": {"field": "y", "type": "quantitative", "axis": {"orient": "right", "values": [-1, -0.5, 0, 0.5, 1], "labels": false, "title": null}},
        "x2": {"field": "x2"},
        "y2": {"field": "y2"}
      }
    }
  ]
},
{
  "width": 30,
  "height": 582,
  "data": {"name": "levels"},
  "mark": {"type": "rule", "strokeWidth": 1.8},
  "encoding": {
    "y": {"field": "l", "type": "quantitative", "scale": {"domain": [-2, 1], "nice": false, "zero": false}, "axis": {"orient": "right", "values": [-2, -1.6, -1.2, -0.8, -0.4, 0, 0.4, 0.8], "format": ".1f", "title": null, "tickSize": -6, "labelPadding": 10}},
    "color": {"field": "l", "type": "quantitative", "scale": {"domain": [-2, -1.25, -0.5, 0.25, 1], "range": ["#00004c", "#0000ee", "#ffffff", "#e00000", "#7a0000"], "interpolate": "rgb"}, "legend": null}
  }
}
],
"spacing": 44
}
